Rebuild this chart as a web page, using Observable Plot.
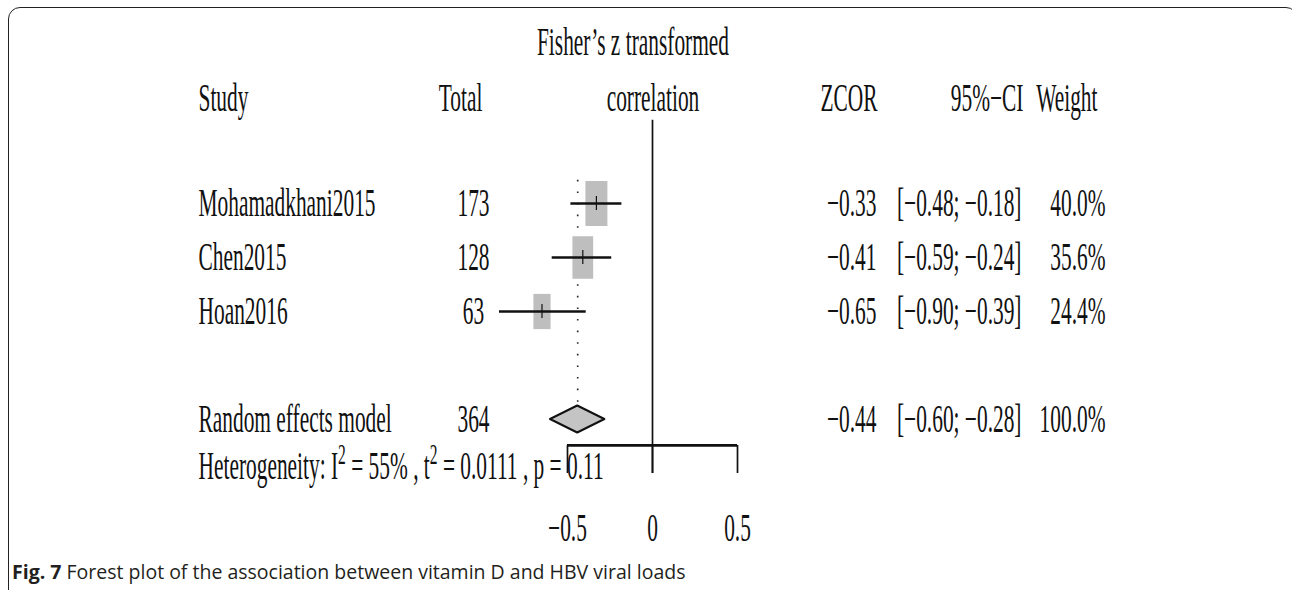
<!DOCTYPE html>
<html><head><meta charset="utf-8">
<script src="https://cdn.jsdelivr.net/npm/d3@7"></script>
<script src="https://cdn.jsdelivr.net/npm/@observablehq/plot@0.6"></script>
<style>
html,body{margin:0;padding:0;background:#fff;width:1292px;height:590px;overflow:hidden;position:relative}
#chart{position:absolute;left:0;top:0}
#chart svg{background:transparent !important}
#frame{position:absolute;left:8px;top:7px;width:1290px;height:660px;border:1.8px solid #222;border-radius:12px;box-sizing:border-box;pointer-events:none}
#caption{position:absolute;left:12px;top:558px;font-family:"Open Sans";font-size:19.5px;line-height:normal;color:#231f20;white-space:nowrap}
</style></head><body>
<div id="chart"></div><div id="frame"></div>
<div id="caption"><b>Fig. 7</b> Forest plot of the association between vitamin D and HBV viral loads</div>
<script>
// ---- data ----
const studies = ["Mohamadkhani2015", "Chen2015", "Hoan2016"];
const totals = [173, 128, 63];
const zcor = [-0.33, -0.41, -0.65];
const lower = [-0.48, -0.59, -0.90];
const upper = [-0.18, -0.24, -0.39];
const weights = [40.0, 35.6, 24.4];
const rows = [1, 2, 3];
const pooledLabel = ["Random effects model"];
const pooledTotal = [364];
const pooledZ = [-0.44];
const pooledLower = [-0.60];
const pooledUpper = [-0.28];
const pooledWeight = [100.0];
const pooledRow = [5];
// heterogeneity line: pieces, superscripts marked
const hetPieces = [["Heterogeneity: I", false], ["2", true], [" = 55% , t", false], ["2", true], [" = 0.0111 , p = 0.11", false]];
const xTicks = [-0.5, 0, 0.5];
const xTickLabels = ["\u22120.5", "0", "0.5"];
const headerLabels = ["Study", "Total", "correlation", "ZCOR", "95%\u2212CI", "Weight"];
const titleLabel = ["Fisher\u2019s z transformed"];

// ---- derived tables ----
const fmt = v => (v < 0 ? "\u2212" : "") + Math.abs(v).toFixed(2);
const studyRows = studies.map((s, i) => ({study: s, total: totals[i], z: zcor[i], lo: lower[i], hi: upper[i], w: weights[i], row: rows[i]}));
const pooled = pooledLabel.map((s, i) => ({study: s, total: pooledTotal[i], z: pooledZ[i], lo: pooledLower[i], hi: pooledUpper[i], w: pooledWeight[i], row: pooledRow[i]}));
const allRows = [...studyRows, ...pooled].map(d => ({...d, zs: fmt(d.z), ci: `[${fmt(d.lo)}; ${fmt(d.hi)}]`, ws: d.w.toFixed(1) + "%"}));
const diamond = pooled.flatMap(d => [
  {x: d.lo, y1: d.row, y2: d.row},
  {x: d.z, y1: d.row - 0.25, y2: d.row + 0.25},
  {x: d.hi, y1: d.row, y2: d.row}
]);
const ticks = xTicks.map((t, i) => ({t, label: xTickLabels[i]}));
const hetText = [hetPieces.map(p => p[0]).join("")];

// tall rectangle symbol (box size ~ sqrt(weight) via r scale)
const boxSymbol = {draw(ctx, size) { const s = Math.sqrt(size / Math.PI); ctx.rect(-s, -2.05 * s, 2 * s, 4.1 * s); }};

const FS = 40;
const txt = (data, opts) => Plot.text(data, {frameAnchor: "left", lineAnchor: "middle", fontSize: FS, fill: "#111", ...opts});
const headerRow = -0.95, titleRow = -1.98, axisRow = 5.48, tickEnd = 6, tickLabelRow = 7.02, hetRow = 5.87;

const chart = Plot.plot({
  width: 1292, height: 590,
  marginLeft: 0, marginRight: 0, marginTop: 0, marginBottom: 0,
  x: {domain: [-0.5, 0.5], range: [567, 737], axis: null},
  y: {domain: [-3, 8], range: [-13, 581], axis: null},
  r: {type: "sqrt", domain: [0, 40], range: [0, 11]},
  style: {fontFamily: "Liberation Serif", background: "transparent"},
  marks: [
    // null line
    Plot.ruleX([0], {y1: -0.54, y2: tickEnd, stroke: "#111", strokeWidth: 1.7}),
    // pooled dotted line
    Plot.ruleX(pooled, {x: "z", y1: 0.57, y2: 4.75, stroke: "#222", strokeWidth: 1.6, strokeDasharray: "1.6,10"}),
    // boxes
    Plot.dot(studyRows, {x: "z", y: "row", r: "w", symbol: boxSymbol, fill: "#bebebe", stroke: null}),
    // CI lines
    Plot.ruleY(studyRows, {y: "row", x1: "lo", x2: "hi", stroke: "#111", strokeWidth: 2.6}),
    // estimate ticks
    Plot.ruleX(studyRows, {x: "z", y1: d => d.row - 0.13, y2: d => d.row + 0.13, stroke: "#111", strokeWidth: 1.2}),
    // diamond
    Plot.areaY(diamond, {x: "x", y1: "y1", y2: "y2", fill: "#c4c4c4", stroke: "#111", strokeWidth: 2}),
    // axis
    Plot.ruleY([axisRow], {x1: xTicks[0], x2: xTicks[xTicks.length - 1], stroke: "#111", strokeWidth: 2.6}),
    Plot.ruleX(ticks, {x: "t", y1: axisRow, y2: tickEnd, stroke: "#111", strokeWidth: 1.7}),
    Plot.text(ticks, {x: "t", y: () => tickLabelRow, text: "label", fontSize: FS, fill: "#111", lineAnchor: "middle"}),
    // table columns
    txt(allRows, {y: "row", text: "study", dx: 198, textAnchor: "start"}),
    txt(allRows, {y: "row", text: d => String(d.total), dx: 473, textAnchor: "middle"}),
    txt(allRows, {y: "row", text: "zs", dx: 876, textAnchor: "end"}),
    txt(allRows, {y: "row", text: "ci", dx: 1021, textAnchor: "end"}),
    txt(allRows, {y: "row", text: "ws", dx: 1105, textAnchor: "end"}),
    // headers
    txt([headerLabels[0]], {y: () => headerRow, text: d => d, dx: 198, textAnchor: "start"}),
    txt([headerLabels[1]], {y: () => headerRow, text: d => d, dx: 460, textAnchor: "middle"}),
    txt([headerLabels[2]], {y: () => headerRow, text: d => d, dx: 652.5, textAnchor: "middle"}),
    txt([headerLabels[3]], {y: () => headerRow, text: d => d, dx: 877, textAnchor: "end"}),
    txt([headerLabels[4]], {y: () => headerRow, text: d => d, dx: 1023, textAnchor: "end"}),
    txt([headerLabels[5]], {y: () => headerRow, text: d => d, dx: 1097, textAnchor: "end"}),
    txt(titleLabel, {y: () => titleRow, text: d => d, dx: 632.5, textAnchor: "middle"}),
    txt(hetText, {y: () => hetRow, text: d => d, dx: 198, textAnchor: "start"})
  ]
});

// heterogeneity: real superscripts via tspans
const SVGNS = "http://www.w3.org/2000/svg";
chart.querySelectorAll("text").forEach(t => {
  if (t.textContent !== hetText[0]) return;
  while (t.firstChild) t.removeChild(t.firstChild);
  let raised = false;
  hetPieces.forEach(([s, sup]) => {
    const ts = document.createElementNS(SVGNS, "tspan");
    if (sup) {
      ts.setAttribute("font-size", "29");
      if (!raised) { ts.setAttribute("dy", "-15"); raised = true; }
    } else if (raised) { ts.setAttribute("dy", "15"); raised = false; }
    ts.textContent = s;
    t.appendChild(ts);
  });
});

// condensed serif look: squeeze each text horizontally about its anchor
const S = 0.535;
chart.querySelectorAll("text").forEach(t => {
  const tr = t.getAttribute("transform") || "";
  t.setAttribute("transform", `${tr} scale(${S},1)`);
});
document.getElementById("chart").appendChild(chart);
</script>
</body></html>
